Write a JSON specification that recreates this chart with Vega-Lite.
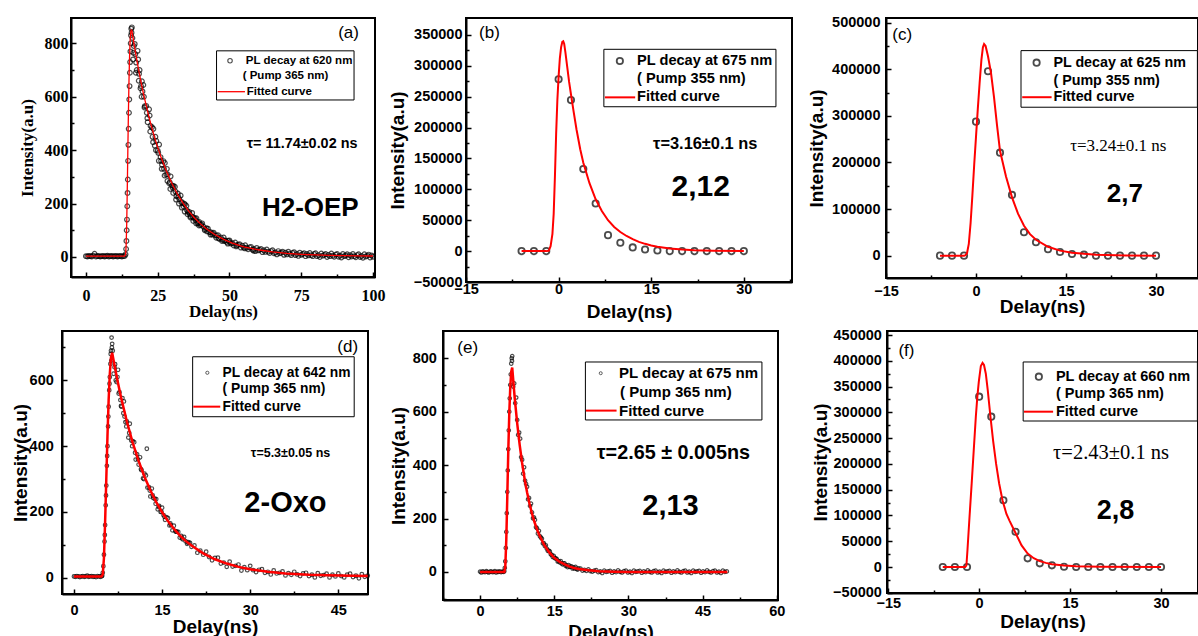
{
"$schema":"https://vega.github.io/schema/vega-lite/v6.json",
"background":"white",
"padding":{"left":0,"top":13,"right":0,"bottom":0},
"config":{
 "view":{"stroke":"black","strokeWidth":2},
 "axis":{"grid":false,"domainColor":"black","domainWidth":2,"tickColor":"black","tickWidth":1.5,"tickSize":-5,"labelColor":"black","titleColor":"black","labelFont":"Liberation Sans","labelFontWeight":"bold","labelFontSize":14.5,"titleFont":"Liberation Sans","titleFontWeight":"bold","titleFontSize":19,"titleBaseline":"middle","labelFlush":false,"labelOverlap":false}
},
"datasets":{
"a_pts":[{"x":0,"y":3},{"x":0.5,"y":2},{"x":1,"y":4},{"x":1.5,"y":3},{"x":2,"y":2},{"x":2.5,"y":5},{"x":3,"y":12},{"x":3.5,"y":2},{"x":4,"y":4},{"x":4.5,"y":3},{"x":5,"y":2},{"x":5.5,"y":3},{"x":6,"y":4},{"x":6.5,"y":2},{"x":7,"y":3},{"x":7.5,"y":5},{"x":8,"y":2},{"x":8.5,"y":3},{"x":9,"y":4},{"x":9.5,"y":2},{"x":10,"y":3},{"x":10.5,"y":4},{"x":11,"y":2},{"x":11.5,"y":3},{"x":12,"y":4},{"x":12.5,"y":2},{"x":13,"y":3},{"x":13.5,"y":4},
{"x":13.8,"y":10},{"x":14,"y":30},{"x":14.1,"y":60},{"x":14.2,"y":100},{"x":14.3,"y":140},{"x":14.4,"y":190},{"x":14.5,"y":240},{"x":14.6,"y":290},{"x":14.7,"y":360},{"x":14.8,"y":420},{"x":14.9,"y":480},{"x":15,"y":540},{"x":15.1,"y":590},{"x":15.2,"y":640},{"x":15.3,"y":690},{"x":15.4,"y":730},{"x":15.5,"y":770},{"x":15.6,"y":800},{"x":15.7,"y":830},{"x":15.8,"y":855},{"x":15.9,"y":840},
{"x":16,"y":860},{"x":16.5,"y":765},{"x":17,"y":798},{"x":17.5,"y":728},{"x":18,"y":772},{"x":18.5,"y":686},{"x":19,"y":632},{"x":19.5,"y":658},{"x":20,"y":644},{"x":20.5,"y":565},{"x":21,"y":566},{"x":21.5,"y":505},{"x":22,"y":553},{"x":22.5,"y":491},{"x":23,"y":486},{"x":23.5,"y":480},{"x":24,"y":417},{"x":24.5,"y":435},{"x":25,"y":398},{"x":25.5,"y":421},{"x":26,"y":374},{"x":26.5,"y":345},{"x":27,"y":359},{"x":27.5,"y":352},{"x":28,"y":309},{"x":28.5,"y":309},{"x":29,"y":276},{"x":29.5,"y":302},{"x":30,"y":268},{"x":30.5,"y":266},{"x":31,"y":263},{"x":31.5,"y":228},{"x":32,"y":238},{"x":32.5,"y":217},{"x":33,"y":230},{"x":33.5,"y":205},{"x":34,"y":189},{"x":34.5,"y":197},{"x":35,"y":192},{"x":35.5,"y":169},{"x":36,"y":169},{"x":36.5,"y":152},{"x":37,"y":165},{"x":37.5,"y":147},{"x":38,"y":145},{"x":38.5,"y":145},{"x":39,"y":125},{"x":39.5,"y":131},{"x":40,"y":119},{"x":40.5,"y":126},{"x":41,"y":113},{"x":41.5,"y":104},{"x":42,"y":108},{"x":42.5,"y":106},{"x":43,"y":93},{"x":43.5,"y":93},{"x":44,"y":84},{"x":44.5,"y":91},{"x":45,"y":81},{"x":45.5,"y":81},{"x":46,"y":82},{"x":46.5,"y":68},{"x":47,"y":73},{"x":47.5,"y":65},{"x":48,"y":73},{"x":48.5,"y":62},{"x":49,"y":56},{"x":49.5,"y":61},{"x":50,"y":62},{"x":50.5,"y":50},{"x":51,"y":52},{"x":51.5,"y":43},{"x":52,"y":54},{"x":52.5,"y":44},{"x":53,"y":46},{"x":53.5,"y":48},{"x":54,"y":35},{"x":54.5,"y":42},{"x":55,"y":35},{"x":55.5,"y":44},{"x":56,"y":35},{"x":56.5,"y":29},{"x":57,"y":36},{"x":57.5,"y":38},{"x":58,"y":27},{"x":58.5,"y":30},{"x":59,"y":22},{"x":59.5,"y":34},{"x":60,"y":25},{"x":60.5,"y":27},{"x":61,"y":30},{"x":61.5,"y":18},{"x":62,"y":25},{"x":62.5,"y":19},{"x":63,"y":28},{"x":63.5,"y":20},{"x":64,"y":15},{"x":64.5,"y":22},{"x":65,"y":25},{"x":65.5,"y":14},{"x":66,"y":17},{"x":66.5,"y":10},{"x":67,"y":22},{"x":67.5,"y":14},{"x":68,"y":16},{"x":68.5,"y":20},{"x":69,"y":8},{"x":69.5,"y":16},{"x":70,"y":10},{"x":70.5,"y":20},{"x":71,"y":12},{"x":71.5,"y":7},{"x":72,"y":15},{"x":72.5,"y":18},{"x":73,"y":7},{"x":73.5,"y":11},{"x":74,"y":4},{"x":74.5,"y":16},{"x":75,"y":8},{"x":75.5,"y":11},{"x":76,"y":14},{"x":76.5,"y":3},{"x":77,"y":11},{"x":77.5,"y":6},{"x":78,"y":15},{"x":78.5,"y":7},{"x":79,"y":3},{"x":79.5,"y":11},{"x":80,"y":14},{"x":80.5,"y":3},{"x":81,"y":7},{"x":81.5,"y":0},{"x":82,"y":13},{"x":82.5,"y":5},{"x":83,"y":8},{"x":83.5,"y":11},{"x":84,"y":0},{"x":84.5,"y":8},{"x":85,"y":3},{"x":85.5,"y":13},{"x":86,"y":5},{"x":86.5,"y":1},{"x":87,"y":9},{"x":87.5,"y":11},{"x":88,"y":1},{"x":88.5,"y":5},{"x":89,"y":-2},{"x":89.5,"y":11},{"x":90,"y":3},{"x":90.5,"y":6},{"x":91,"y":10},{"x":91.5,"y":-1},{"x":92,"y":7},{"x":92.5,"y":2},{"x":93,"y":11},{"x":93.5,"y":3},{"x":94,"y":-1},{"x":94.5,"y":7},{"x":95,"y":10},{"x":95.5,"y":0},{"x":96,"y":4},{"x":96.5,"y":-3},{"x":97,"y":10},{"x":97.5,"y":2},{"x":98,"y":5},{"x":98.5,"y":9},{"x":99,"y":-2},{"x":99.5,"y":6},{"x":100,"y":1},
{"x":16.2,"y":820},{"x":16.7,"y":790},{"x":17.2,"y":760},{"x":17.7,"y":700},{"x":18.2,"y":740},{"x":18.7,"y":700},{"x":19.2,"y":640},{"x":19.7,"y":620},{"x":20.2,"y":600},{"x":21.2,"y":540},{"x":22.2,"y":530},{"x":23.2,"y":450},{"x":24.2,"y":450},{"x":25.2,"y":390},{"x":26.2,"y":360},{"x":27.2,"y":330},{"x":28.2,"y":330},{"x":29.2,"y":280},{"x":30.2,"y":260},{"x":31.2,"y":245},{"x":32.2,"y":225},{"x":33.2,"y":205},{"x":34.2,"y":200},{"x":35.2,"y":175},{"x":36.2,"y":160},{"x":37.2,"y":150},{"x":38.2,"y":138},{"x":39.2,"y":128},{"x":40.2,"y":122},{"x":42.2,"y":96},{"x":44.2,"y":88},{"x":46.2,"y":70},{"x":48.2,"y":60},{"x":50.2,"y":55},
{"x":16.4,"y":740},{"x":17.4,"y":690},{"x":18.4,"y":660},{"x":19.4,"y":600},{"x":20.4,"y":560},{"x":21.4,"y":520},{"x":22.4,"y":470},{"x":23.4,"y":430},{"x":24.4,"y":400},{"x":25.4,"y":360},{"x":26.4,"y":330},{"x":27.4,"y":305},{"x":28.4,"y":285},{"x":29.4,"y":255},{"x":30.4,"y":240},{"x":31.4,"y":215},{"x":32.4,"y":200},{"x":33.4,"y":185},{"x":34.4,"y":170},{"x":35.4,"y":160},{"x":36.4,"y":148},{"x":37.4,"y":135},{"x":38.4,"y":126},{"x":39.4,"y":118},{"x":41.4,"y":100},{"x":43.4,"y":84},{"x":45.4,"y":72},{"x":47.4,"y":60},{"x":49.4,"y":50},{"x":52.4,"y":40},{"x":55.4,"y":32},{"x":58.4,"y":24}],
"a_fit":[{"x":0,"y":3},{"x":13.5,"y":3},{"x":13.8,"y":8},{"x":14,"y":40},{"x":14.2,"y":120},{"x":14.4,"y":250},{"x":14.6,"y":400},{"x":14.8,"y":540},{"x":15,"y":660},{"x":15.2,"y":750},{"x":15.4,"y":810},{"x":15.6,"y":840},{"x":15.8,"y":850},{"x":16,"y":848},{"x":17,"y":782},{"x":18,"y":721},{"x":19,"y":665},{"x":20,"y":613},{"x":22,"y":522},{"x":24,"y":444},{"x":26,"y":378},{"x":28,"y":322},{"x":30,"y":274},{"x":32,"y":233},{"x":34,"y":199},{"x":36,"y":169},{"x":38,"y":144},{"x":40,"y":123},{"x":42,"y":105},{"x":45,"y":83},{"x":48,"y":66},{"x":51,"y":52},{"x":55,"y":38},{"x":60,"y":27},{"x":65,"y":19},{"x":70,"y":13.5},{"x":75,"y":10},{"x":80,"y":7.6},{"x":85,"y":6},{"x":90,"y":5},{"x":95,"y":4.2},{"x":100,"y":3.6}],
"a_txt":[{"x":55.7,"y":735,"t":"PL decay at 620 nm","k":"leg"},{"x":54.6,"y":678,"t":"( Pump 365 nm)","k":"leg"},{"x":56,"y":619,"t":"Fitted curve","k":"leg"},{"x":56,"y":423,"t":"τ= 11.74±0.02 ns","k":"tau"},{"x":61.3,"y":183,"t":"H2-OEP","k":"big"},{"x":91.5,"y":839,"t":"(a)","k":"lab"}],
"b_pts":[{"x":-6,"y":0},{"x":-4,"y":0},{"x":-2,"y":0},{"x":0,"y":278200},{"x":2,"y":244600},{"x":4,"y":132800},{"x":6,"y":77200},{"x":8,"y":25900},{"x":10,"y":13500},{"x":12,"y":6000},{"x":14,"y":2700},{"x":16,"y":1000},{"x":18,"y":0},{"x":20,"y":0},{"x":22,"y":0},{"x":24,"y":0},{"x":26,"y":0},{"x":28,"y":0},{"x":30,"y":0}],
"b_fit":[{"x":-6,"y":0},{"x":-2,"y":0},{"x":-1.6,"y":500},{"x":-1.3,"y":8000},{"x":-1,"y":28000},{"x":-0.8,"y":60000},{"x":-0.6,"y":120000},{"x":-0.4,"y":190000},{"x":-0.2,"y":245000},{"x":0,"y":283000},{"x":0.2,"y":312000},{"x":0.4,"y":330000},{"x":0.6,"y":339000},{"x":0.75,"y":340000},{"x":0.9,"y":336000},{"x":1.1,"y":322000},{"x":1.4,"y":298000},{"x":1.7,"y":274000},{"x":2,"y":254000},{"x":2.4,"y":228000},{"x":2.9,"y":197000},{"x":3.5,"y":165000},{"x":4,"y":143000},{"x":5,"y":110000},{"x":6,"y":84000},{"x":7,"y":65000},{"x":8,"y":50000},{"x":9,"y":39000},{"x":10,"y":31000},{"x":11,"y":24500},{"x":12,"y":19500},{"x":13,"y":15000},{"x":14,"y":11800},{"x":15,"y":9200},{"x":16,"y":7200},{"x":18,"y":4400},{"x":20,"y":2700},{"x":22,"y":1600},{"x":25,"y":700},{"x":30,"y":100}],
"b_txt":[{"x":12.7,"y":307800,"t":"PL decay at 675 nm","k":"leg"},{"x":12.7,"y":278100,"t":"( Pump 355 nm)","k":"leg"},{"x":12.7,"y":249000,"t":"Fitted curve","k":"leg"},{"x":15.3,"y":173300,"t":"τ=3.16±0.1 ns","k":"tau"},{"x":18.3,"y":104200,"t":"2,12","k":"big"},{"x":-11.2,"y":353000,"t":"(b)","k":"lab"}],
"c_pts":[{"x":-6,"y":0},{"x":-4,"y":0},{"x":-2,"y":0},{"x":0,"y":287600},{"x":2,"y":395700},{"x":4,"y":221000},{"x":6,"y":130300},{"x":8,"y":50200},{"x":10,"y":28700},{"x":12,"y":13700},{"x":14,"y":7900},{"x":16,"y":3600},{"x":18,"y":2100},{"x":20,"y":0},{"x":22,"y":0},{"x":24,"y":0},{"x":26,"y":0},{"x":28,"y":0},{"x":30,"y":0}],
"c_fit":[{"x":-6,"y":0},{"x":-2,"y":0},{"x":-1.8,"y":500},{"x":-1.5,"y":5000},{"x":-1.2,"y":25000},{"x":-0.9,"y":70000},{"x":-0.6,"y":130000},{"x":-0.3,"y":195000},{"x":0,"y":255000},{"x":0.3,"y":315000},{"x":0.6,"y":370000},{"x":0.9,"y":420000},{"x":1.15,"y":447000},{"x":1.35,"y":454000},{"x":1.6,"y":450000},{"x":2,"y":428000},{"x":2.5,"y":392000},{"x":3,"y":340000},{"x":3.5,"y":280000},{"x":4,"y":225000},{"x":5,"y":170000},{"x":6,"y":125000},{"x":7,"y":90000},{"x":8,"y":64000},{"x":9,"y":46000},{"x":10,"y":34000},{"x":12,"y":19000},{"x":14,"y":10700},{"x":16,"y":6400},{"x":18,"y":3800},{"x":20,"y":2000},{"x":25,"y":500},{"x":30,"y":0}],
"c_txt":[{"x":12.9,"y":414200,"t":"PL decay at 625 nm","k":"leg"},{"x":12.9,"y":374900,"t":"( Pump 355 nm)","k":"leg"},{"x":12.9,"y":340000,"t":"Fitted curve","k":"leg"},{"x":15.7,"y":236000,"t":"τ=3.24±0.1 ns","k":"tau"},{"x":21.8,"y":132400,"t":"2,7","k":"big"},{"x":-12.3,"y":473600,"t":"(c)","k":"lab"}],
"d_pts":[{"x":0,"y":4},{"x":0.25,"y":3},{"x":0.5,"y":5},{"x":0.75,"y":4},{"x":1,"y":2},{"x":1.25,"y":4},{"x":1.5,"y":5},{"x":1.75,"y":3},{"x":2,"y":4},{"x":2.25,"y":6},{"x":2.5,"y":3},{"x":2.75,"y":4},{"x":3,"y":5},{"x":3.25,"y":3},{"x":3.5,"y":4},{"x":3.75,"y":2},{"x":4,"y":5},{"x":4.25,"y":4},{"x":4.5,"y":3},{"x":4.75,"y":5},
{"x":4.8,"y":6},{"x":4.9,"y":15},{"x":5,"y":35},{"x":5.1,"y":70},{"x":5.2,"y":110},{"x":5.25,"y":130},{"x":5.3,"y":160},{"x":5.4,"y":220},{"x":5.45,"y":250},{"x":5.5,"y":280},{"x":5.6,"y":340},{"x":5.65,"y":370},{"x":5.7,"y":400},{"x":5.8,"y":460},{"x":5.85,"y":490},{"x":5.9,"y":520},{"x":6,"y":570},{"x":6.05,"y":590},{"x":6.1,"y":610},{"x":6.2,"y":650},{"x":6.25,"y":680},{"x":6.3,"y":690},{"x":6.35,"y":660},{"x":6.4,"y":730},{"x":6.45,"y":700},
{"x":6.5,"y":711},{"x":6.75,"y":620},{"x":7,"y":649},{"x":7.25,"y":595},{"x":7.5,"y":632},{"x":7.75,"y":564},{"x":8,"y":522},{"x":8.25,"y":546},{"x":8.5,"y":536},{"x":8.75,"y":473},{"x":9,"y":475},{"x":9.25,"y":426},{"x":9.5,"y":468},{"x":9.75,"y":417},{"x":10,"y":415},{"x":10.25,"y":412},{"x":10.5,"y":359},{"x":10.75,"y":375},{"x":11,"y":344},{"x":11.25,"y":366},{"x":11.5,"y":327},{"x":11.75,"y":302},{"x":12,"y":316},{"x":12.25,"y":311},{"x":12.5,"y":274},{"x":12.75,"y":275},{"x":13,"y":247},{"x":13.25,"y":271},{"x":13.5,"y":242},{"x":13.75,"y":240},{"x":14,"y":239},{"x":14.25,"y":208},{"x":14.5,"y":218},{"x":14.75,"y":200},{"x":15,"y":213},{"x":15.25,"y":190},{"x":15.5,"y":176},{"x":15.75,"y":184},{"x":16,"y":181},{"x":16.25,"y":159},{"x":16.5,"y":160},{"x":16.75,"y":144},{"x":17,"y":158},{"x":17.25,"y":141},{"x":17.5,"y":140},{"x":17.75,"y":139},{"x":18,"y":122},{"x":18.25,"y":127},{"x":18.5,"y":117},{"x":18.75,"y":124},{"x":19,"y":111},{"x":19.25,"y":103},{"x":19.5,"y":108},{"x":19.75,"y":106},{"x":20,"y":94},
{"x":6.6,"y":690},{"x":6.9,"y":640},{"x":7.1,"y":600},{"x":7.4,"y":610},{"x":7.6,"y":560},{"x":7.9,"y":540},{"x":8.1,"y":520},{"x":8.4,"y":500},{"x":8.6,"y":490},{"x":8.9,"y":460},{"x":9.4,"y":440},{"x":9.9,"y":400},{"x":10.4,"y":380},{"x":10.9,"y":360},{"x":11.4,"y":330},{"x":11.9,"y":300},{"x":12.4,"y":392},{"x":12.9,"y":265},{"x":13.4,"y":250},{"x":13.9,"y":225},{"x":14.4,"y":215},{"x":14.9,"y":200},{"x":15.4,"y":185},{"x":16.4,"y":165},{"x":17.4,"y":140},{"x":18.4,"y":120},{"x":19.4,"y":106},
{"x":20.5,"y":98},{"x":21,"y":76},{"x":21.5,"y":82},{"x":22,"y":70},{"x":22.5,"y":79},{"x":23,"y":63},{"x":23.5,"y":53},{"x":24,"y":60},{"x":24.5,"y":61},{"x":25,"y":43},{"x":25.5,"y":46},{"x":26,"y":33},{"x":26.5,"y":49},{"x":27,"y":34},{"x":27.5,"y":36},{"x":28,"y":40},{"x":28.5,"y":22},{"x":29,"y":32},{"x":29.5,"y":23},{"x":30,"y":36},{"x":30.5,"y":23},{"x":31,"y":17},{"x":31.5,"y":24},{"x":32,"y":26},{"x":32.5,"y":15},{"x":33,"y":18},{"x":33.5,"y":10},{"x":34,"y":22},{"x":34.5,"y":13},{"x":35,"y":15},{"x":35.5,"y":19},{"x":36,"y":7},{"x":36.5,"y":14},{"x":37,"y":9},{"x":37.5,"y":18},{"x":38,"y":10},{"x":38.5,"y":5},{"x":39,"y":13},{"x":39.5,"y":15},{"x":40,"y":5},{"x":40.5,"y":9},{"x":41,"y":1},{"x":41.5,"y":14},{"x":42,"y":6},{"x":42.5,"y":8},{"x":43,"y":12},{"x":43.5,"y":1},{"x":44,"y":9},{"x":44.5,"y":4},{"x":45,"y":13},{"x":45.5,"y":5},{"x":46,"y":1},{"x":46.5,"y":9},{"x":47,"y":12},{"x":47.5,"y":2},{"x":48,"y":6},{"x":48.5,"y":-2},{"x":49,"y":11},{"x":49.5,"y":3},{"x":50,"y":6}],
"d_fit":[{"x":0,"y":4},{"x":4.7,"y":4},{"x":4.9,"y":10},{"x":5.1,"y":60},{"x":5.3,"y":170},{"x":5.5,"y":300},{"x":5.7,"y":430},{"x":5.9,"y":540},{"x":6.1,"y":620},{"x":6.3,"y":670},{"x":6.5,"y":684},{"x":7,"y":636},{"x":7.5,"y":591},{"x":8,"y":549},{"x":9,"y":475},{"x":10,"y":410},{"x":11,"y":355},{"x":12,"y":307},{"x":13,"y":266},{"x":14,"y":230},{"x":15,"y":199},{"x":16,"y":172},{"x":17,"y":149},{"x":18,"y":129},{"x":19,"y":112},{"x":20,"y":98},{"x":22,"y":74},{"x":24,"y":56},{"x":26,"y":43},{"x":28,"y":33},{"x":30,"y":25.5},{"x":33,"y":18},{"x":36,"y":13},{"x":40,"y":9},{"x":45,"y":6.4},{"x":50,"y":5}],
"d_txt":[{"x":25.3,"y":623,"t":"PL decay at 642 nm","k":"leg"},{"x":25.3,"y":572.6,"t":"( Pump 365 nm)","k":"leg"},{"x":25.3,"y":520,"t":"Fitted curve","k":"leg"},{"x":30.1,"y":380,"t":"τ=5.3±0.05 ns","k":"tau"},{"x":29,"y":228,"t":"2-Oxo","k":"big"},{"x":46.6,"y":702,"t":"(d)","k":"lab"}],
"e_pts":[{"x":0,"y":1},{"x":0.25,"y":-2},{"x":0.5,"y":2},{"x":0.75,"y":0},{"x":1,"y":-1},{"x":1.25,"y":3},{"x":1.5,"y":0},{"x":1.75,"y":-2},{"x":2,"y":1},{"x":2.25,"y":2},{"x":2.5,"y":-1},{"x":2.75,"y":0},{"x":3,"y":3},{"x":3.25,"y":-2},{"x":3.5,"y":1},{"x":3.75,"y":0},{"x":4,"y":2},{"x":4.25,"y":-1},{"x":4.5,"y":1},{"x":4.75,"y":0},
{"x":4.9,"y":3},{"x":5,"y":15},{"x":5.1,"y":40},{"x":5.2,"y":90},{"x":5.3,"y":150},{"x":5.4,"y":220},{"x":5.5,"y":300},{"x":5.6,"y":380},{"x":5.7,"y":460},{"x":5.8,"y":530},{"x":5.9,"y":600},{"x":6,"y":650},{"x":6.1,"y":700},{"x":6.2,"y":740},{"x":6.3,"y":780},{"x":6.4,"y":800},{"x":6.45,"y":790},
{"x":6.5,"y":808},{"x":6.7,"y":694},{"x":6.9,"y":706},{"x":7.1,"y":632},{"x":7.3,"y":653},{"x":7.5,"y":569},{"x":7.7,"y":513},{"x":7.9,"y":522},{"x":8.1,"y":499},{"x":8.3,"y":430},{"x":8.5,"y":420},{"x":8.7,"y":368},{"x":8.9,"y":392},{"x":9.1,"y":342},{"x":9.3,"y":330},{"x":9.5,"y":319},{"x":9.7,"y":272},{"x":9.9,"y":277},{"x":10.1,"y":247},{"x":10.3,"y":256},{"x":10.5,"y":223},{"x":10.7,"y":201},{"x":10.9,"y":204},{"x":11.1,"y":195},{"x":11.3,"y":168},{"x":11.5,"y":164},{"x":11.7,"y":144},{"x":11.9,"y":154},{"x":12.1,"y":134},{"x":12.3,"y":129},{"x":12.5,"y":125},{"x":12.7,"y":107},{"x":12.9,"y":108},{"x":13.1,"y":97},{"x":13.3,"y":100},{"x":13.5,"y":87},{"x":13.7,"y":79},{"x":13.9,"y":80},{"x":14.1,"y":77},{"x":14.3,"y":66},{"x":14.5,"y":64},{"x":14.7,"y":56},{"x":14.9,"y":60},{"x":15.1,"y":52},{"x":15.3,"y":51},{"x":15.5,"y":49},{"x":15.7,"y":39},{"x":15.9,"y":41},{"x":16.1,"y":36},{"x":16.3,"y":41},{"x":16.5,"y":32},{"x":16.7,"y":28},{"x":16.9,"y":32},{"x":17.1,"y":32},{"x":17.3,"y":23},{"x":17.5,"y":25},{"x":17.7,"y":18},{"x":17.9,"y":26},{"x":18.1,"y":19},{"x":18.3,"y":20},{"x":18.5,"y":21},{"x":18.7,"y":13},{"x":18.9,"y":17},{"x":19.1,"y":13},{"x":19.3,"y":19},{"x":19.5,"y":12},{"x":19.7,"y":9},{"x":19.9,"y":14},
{"x":20.3,"y":13},{"x":20.7,"y":5},{"x":21.1,"y":8},{"x":21.5,"y":4},{"x":21.9,"y":10},{"x":22.3,"y":3},{"x":22.7,"y":1},{"x":23.1,"y":5},{"x":23.5,"y":7},{"x":23.9,"y":-1},{"x":24.3,"y":2},{"x":24.7,"y":-4},{"x":25.1,"y":5},{"x":25.5,"y":0},{"x":25.9,"y":2},{"x":26.3,"y":4},{"x":26.7,"y":-3},{"x":27.1,"y":2},{"x":27.5,"y":-1},{"x":27.9,"y":6},{"x":28.3,"y":0},{"x":28.7,"y":-2},{"x":29.1,"y":3},{"x":29.5,"y":5},{"x":29.9,"y":-2},{"x":30.3,"y":1},{"x":30.7,"y":-4},{"x":31.1,"y":5},{"x":31.5,"y":0},{"x":31.9,"y":2},{"x":32.3,"y":4},{"x":32.7,"y":-3},{"x":33.1,"y":2},{"x":33.5,"y":-1},{"x":33.9,"y":6},{"x":34.3,"y":0},{"x":34.7,"y":-2},{"x":35.1,"y":3},{"x":35.5,"y":5},{"x":35.9,"y":-2},{"x":36.3,"y":1},{"x":36.7,"y":-4},{"x":37.1,"y":5},{"x":37.5,"y":0},{"x":37.9,"y":2},{"x":38.3,"y":4},{"x":38.7,"y":-3},{"x":39.1,"y":2},{"x":39.5,"y":-1},{"x":39.9,"y":6},{"x":40.3,"y":0},{"x":40.7,"y":-2},{"x":41.1,"y":3},{"x":41.5,"y":5},{"x":41.9,"y":-2},{"x":42.3,"y":1},{"x":42.7,"y":-4},{"x":43.1,"y":5},{"x":43.5,"y":0},{"x":43.9,"y":2},{"x":44.3,"y":4},{"x":44.7,"y":-3},{"x":45.1,"y":2},{"x":45.5,"y":-1},{"x":45.9,"y":6},{"x":46.3,"y":0},{"x":46.7,"y":-2},{"x":47.1,"y":3},{"x":47.5,"y":5},{"x":47.9,"y":-2},{"x":48.3,"y":1},{"x":48.7,"y":-4},{"x":49.1,"y":5},{"x":49.5,"y":0},{"x":49.9,"y":2}],
"e_fit":[{"x":0,"y":0},{"x":4.9,"y":0},{"x":5.1,"y":20},{"x":5.3,"y":120},{"x":5.5,"y":280},{"x":5.7,"y":450},{"x":5.9,"y":590},{"x":6.1,"y":690},{"x":6.3,"y":750},{"x":6.5,"y":765},{"x":7,"y":652},{"x":7.5,"y":557},{"x":8,"y":477},{"x":8.5,"y":408},{"x":9,"y":349},{"x":9.5,"y":298},{"x":10,"y":255},{"x":10.5,"y":218},{"x":11,"y":187},{"x":11.5,"y":160},{"x":12,"y":137},{"x":13,"y":100},{"x":14,"y":73},{"x":15,"y":53},{"x":16,"y":39},{"x":17,"y":29},{"x":18,"y":21},{"x":19,"y":15},{"x":20,"y":11},{"x":22,"y":6},{"x":24,"y":3},{"x":27,"y":1},{"x":30,"y":0},{"x":50,"y":0}],
"e_txt":[{"x":28.1,"y":744,"t":"PL decay at 675 nm","k":"leg"},{"x":28.3,"y":674,"t":"( Pump 365 nm)","k":"leg"},{"x":28.1,"y":604,"t":"Fitted curve","k":"leg"},{"x":23.6,"y":446.6,"t":"τ=2.65 ± 0.005ns","k":"tau"},{"x":32.8,"y":246,"t":"2,13","k":"big"},{"x":-2.5,"y":840,"t":"(e)","k":"lab"}],
"f_pts":[{"x":-6,"y":0},{"x":-4,"y":0},{"x":-2,"y":0},{"x":0,"y":330400},{"x":2,"y":291600},{"x":4,"y":129400},{"x":6,"y":68500},{"x":8,"y":16800},{"x":10,"y":7100},{"x":12,"y":3300},{"x":14,"y":600},{"x":16,"y":0},{"x":18,"y":0},{"x":20,"y":0},{"x":22,"y":0},{"x":24,"y":0},{"x":26,"y":0},{"x":28,"y":0},{"x":30,"y":0}],
"f_fit":[{"x":-6,"y":0},{"x":-2.3,"y":0},{"x":-2.1,"y":3000},{"x":-1.92,"y":34000},{"x":-1.6,"y":95000},{"x":-1.2,"y":168000},{"x":-0.9,"y":225000},{"x":-0.54,"y":293000},{"x":-0.3,"y":330000},{"x":-0.05,"y":360000},{"x":0.28,"y":390000},{"x":0.56,"y":396000},{"x":0.8,"y":392000},{"x":1.1,"y":375000},{"x":1.4,"y":345000},{"x":1.87,"y":291000},{"x":2.3,"y":245000},{"x":2.8,"y":200000},{"x":3.3,"y":162000},{"x":3.86,"y":129000},{"x":4.5,"y":103000},{"x":5,"y":90000},{"x":6,"y":66000},{"x":7,"y":42000},{"x":8,"y":26000},{"x":9,"y":17000},{"x":10,"y":11500},{"x":11,"y":8000},{"x":12,"y":5500},{"x":14,"y":2800},{"x":16,"y":1400},{"x":20,"y":400},{"x":30,"y":0}],
"f_txt":[{"x":12.66,"y":369200,"t":"PL decay at 660 nm","k":"leg"},{"x":12.66,"y":335600,"t":"( Pump 365 nm)","k":"leg"},{"x":12.66,"y":301300,"t":"Fitted curve","k":"leg"},{"x":12.2,"y":221700,"t":"τ=2.43±0.1 ns","k":"tau"},{"x":19.4,"y":108600,"t":"2,8","k":"big"},{"x":-12,"y":419000,"t":"(f)","k":"lab"}]
},
"spacing":4,
"bounds":"full",
"vconcat":[
{"spacing":0,"bounds":"flush","resolve":{"scale":{"x":"independent","y":"independent"},"axis":{"x":"independent","y":"independent"}},
 "hconcat":[
{"width":71,"height":1,"data":{"values":[{}]},"mark":{"type":"point","opacity":0,"size":0},"view":{"stroke":null}},
{"width":304,"height":259,
 "encoding":{
  "x":{"field":"x","type":"quantitative","scale":{"domain":[-5.2,100.7],"nice":false,"zero":false},"axis":{"title":"Delay(ns)","values":[0,12.5,25,37.5,50,62.5,75,87.5,100],"labelExpr":"datum.value % 25 != 0 ? '' : datum.label","tickSize":{"condition":{"test":"datum.value % 25 != 0","value":-3},"value":-5},"format":"d","labelFont":"Liberation Serif","labelFontSize":16,"titleFont":"Liberation Serif","titleFontSize":17,"labelPadding":15,"titleY":34}},
  "y":{"field":"y","type":"quantitative","scale":{"domain":[-75,895],"nice":false,"zero":false},"axis":{"title":"Intensity(a.u)","values":[0,100,200,300,400,500,600,700,800],"labelExpr":"datum.value % 200 != 0 ? '' : datum.label","tickSize":{"condition":{"test":"datum.value % 200 != 0","value":-3},"value":-5},"format":"d","labelFont":"Liberation Serif","labelFontSize":16,"titleFont":"Liberation Serif","titleFontSize":17,"labelPadding":8,"titleX":-43.5}}},
 "layer":[
  {"data":{"name":"a_pts"},"mark":{"type":"point","shape":"circle","filled":false,"color":"black","size":22,"strokeWidth":1.2}},
  {"data":{"name":"a_fit"},"mark":{"type":"line","color":"red","strokeWidth":1.3}},
  {"data":{"values":[{"x":45.5,"x2":93.4,"y":772,"y2":588}]},"mark":{"type":"rect","fill":"white","stroke":"black","strokeWidth":1},"encoding":{"x2":{"field":"x2"},"y2":{"field":"y2"}}},
  {"data":{"values":[{"x":45.9,"x2":55.4,"y":619}]},"mark":{"type":"rule","color":"red","strokeWidth":1.3},"encoding":{"x2":{"field":"x2"}}},
  {"data":{"values":[{"x":50.2,"y":735}]},"mark":{"type":"point","shape":"circle","filled":false,"color":"black","size":20,"strokeWidth":1.1}},
  {"data":{"name":"a_txt"},"transform":[{"filter":"datum.k=='leg'"}],"mark":{"type":"text","align":"left","baseline":"middle","font":"Liberation Sans","fontWeight":"bold","fontSize":11.5},"encoding":{"text":{"field":"t"}}},
  {"data":{"name":"a_txt"},"transform":[{"filter":"datum.k=='tau'"}],"mark":{"type":"text","align":"left","baseline":"middle","font":"Liberation Sans","fontWeight":"bold","fontSize":14.4},"encoding":{"text":{"field":"t"}}},
  {"data":{"name":"a_txt"},"transform":[{"filter":"datum.k=='big'"}],"mark":{"type":"text","align":"left","baseline":"middle","font":"Liberation Sans","fontWeight":"bold","fontSize":26},"encoding":{"text":{"field":"t"}}},
  {"data":{"name":"a_txt"},"transform":[{"filter":"datum.k=='lab'"}],"mark":{"type":"text","align":"center","baseline":"middle","font":"Liberation Sans","fontSize":17},"encoding":{"text":{"field":"t"}}}
 ]},
{"width":91,"height":1,"data":{"values":[{}]},"mark":{"type":"point","opacity":0,"size":0},"view":{"stroke":null}},
{"width":326,"height":264,
 "encoding":{
  "x":{"field":"x","type":"quantitative","scale":{"domain":[-15,37.8],"nice":false,"zero":false},"axis":{"title":"Delay(ns)","values":[-15,-7.5,0,7.5,15,22.5,30,37.5],"labelExpr":"datum.value % 15 != 0 ? '' : datum.label","tickSize":{"condition":{"test":"datum.value % 15 != 0","value":-3},"value":-5},"format":"d","labelPadding":5.5,"titleY":29}},
  "y":{"field":"y","type":"quantitative","scale":{"domain":[-50000,377500],"nice":false,"zero":false},"axis":{"title":"Intensity(a.u)","values":[-50000,-25000,0,25000,50000,75000,100000,125000,150000,175000,200000,225000,250000,275000,300000,325000,350000],"labelExpr":"datum.value % 50000 != 0 ? '' : datum.label","tickSize":{"condition":{"test":"datum.value % 50000 != 0","value":-3},"value":-5},"format":"d","labelPadding":9,"titleX":-69}}},
 "layer":[
  {"data":{"name":"b_pts"},"mark":{"type":"point","shape":"circle","filled":false,"color":"black","size":40,"strokeWidth":1.8}},
  {"data":{"name":"b_fit"},"mark":{"type":"line","color":"red","strokeWidth":2}},
  {"data":{"values":[{"x":7.33,"x2":35.2,"y":326800,"y2":233800}]},"mark":{"type":"rect","fill":"white","stroke":"black","strokeWidth":1},"encoding":{"x2":{"field":"x2"},"y2":{"field":"y2"}}},
  {"data":{"values":[{"x":7.5,"x2":12.4,"y":249000}]},"mark":{"type":"rule","color":"red","strokeWidth":2},"encoding":{"x2":{"field":"x2"}}},
  {"data":{"values":[{"x":9.92,"y":307800}]},"mark":{"type":"point","shape":"circle","filled":false,"color":"black","size":40,"strokeWidth":1.8}},
  {"data":{"name":"b_txt"},"transform":[{"filter":"datum.k=='leg'"}],"mark":{"type":"text","align":"left","baseline":"middle","font":"Liberation Sans","fontWeight":"bold","fontSize":14.6},"encoding":{"text":{"field":"t"}}},
  {"data":{"name":"b_txt"},"transform":[{"filter":"datum.k=='tau'"}],"mark":{"type":"text","align":"left","baseline":"middle","font":"Liberation Sans","fontWeight":"bold","fontSize":16.4},"encoding":{"text":{"field":"t"}}},
  {"data":{"name":"b_txt"},"transform":[{"filter":"datum.k=='big'"}],"mark":{"type":"text","align":"left","baseline":"middle","font":"Liberation Sans","fontWeight":"bold","fontSize":30},"encoding":{"text":{"field":"t"}}},
  {"data":{"name":"b_txt"},"transform":[{"filter":"datum.k=='lab'"}],"mark":{"type":"text","align":"center","baseline":"middle","font":"Liberation Sans","fontSize":17},"encoding":{"text":{"field":"t"}}}
 ]},
{"width":94,"height":1,"data":{"values":[{}]},"mark":{"type":"point","opacity":0,"size":0},"view":{"stroke":null}},
{"width":312,"height":260,
 "encoding":{
  "x":{"field":"x","type":"quantitative","scale":{"domain":[-15,37],"nice":false,"zero":false},"axis":{"title":"Delay(ns)","values":[-15,-7.5,0,7.5,15,22.5,30],"labelExpr":"datum.value % 15 != 0 ? '' : datum.label","tickSize":{"condition":{"test":"datum.value % 15 != 0","value":-3},"value":-5},"format":"d","labelPadding":11.5,"titleY":28.7}},
  "y":{"field":"y","type":"quantitative","scale":{"domain":[-48000,510000],"nice":false,"zero":false},"axis":{"title":"Intensity(a.u)","values":[0,50000,100000,150000,200000,250000,300000,350000,400000,450000,500000],"labelExpr":"datum.value % 100000 != 0 ? '' : datum.label","tickSize":{"condition":{"test":"datum.value % 100000 != 0","value":-3},"value":-5},"format":"d","labelPadding":11,"titleX":-69.3}}},
 "layer":[
  {"data":{"name":"c_pts"},"mark":{"type":"point","shape":"circle","filled":false,"color":"black","size":40,"strokeWidth":1.8}},
  {"data":{"name":"c_fit"},"mark":{"type":"line","color":"red","strokeWidth":2}},
  {"data":{"values":[{"x":7.5,"x2":36.9,"y":440000,"y2":318500}]},"mark":{"type":"rect","fill":"white","stroke":"black","strokeWidth":1},"encoding":{"x2":{"field":"x2"},"y2":{"field":"y2"}}},
  {"data":{"values":[{"x":7.7,"x2":12.6,"y":340000}]},"mark":{"type":"rule","color":"red","strokeWidth":2},"encoding":{"x2":{"field":"x2"}}},
  {"data":{"values":[{"x":10.1,"y":414200}]},"mark":{"type":"point","shape":"circle","filled":false,"color":"black","size":40,"strokeWidth":1.8}},
  {"data":{"name":"c_txt"},"transform":[{"filter":"datum.k=='leg'"}],"mark":{"type":"text","align":"left","baseline":"middle","font":"Liberation Sans","fontWeight":"bold","fontSize":14.3},"encoding":{"text":{"field":"t"}}},
  {"data":{"name":"c_txt"},"transform":[{"filter":"datum.k=='tau'"}],"mark":{"type":"text","align":"left","baseline":"middle","font":"Liberation Serif","fontSize":17},"encoding":{"text":{"field":"t"}}},
  {"data":{"name":"c_txt"},"transform":[{"filter":"datum.k=='big'"}],"mark":{"type":"text","align":"left","baseline":"middle","font":"Liberation Sans","fontWeight":"bold","fontSize":26},"encoding":{"text":{"field":"t"}}},
  {"data":{"name":"c_txt"},"transform":[{"filter":"datum.k=='lab'"}],"mark":{"type":"text","align":"center","baseline":"middle","font":"Liberation Sans","fontSize":17},"encoding":{"text":{"field":"t"}}}
 ]}
 ]},
{"spacing":0,"bounds":"flush","resolve":{"scale":{"x":"independent","y":"independent"},"axis":{"x":"independent","y":"independent"}},
 "hconcat":[
{"width":62,"height":1,"data":{"values":[{}]},"mark":{"type":"point","opacity":0,"size":0},"view":{"stroke":null}},
{"width":306,"height":263,
 "encoding":{
  "x":{"field":"x","type":"quantitative","scale":{"domain":[-2.04,50.05],"nice":false,"zero":false},"axis":{"title":"Delay(ns)","values":[0,7.5,15,22.5,30,37.5,45],"labelExpr":"datum.value % 15 != 0 ? '' : datum.label","tickSize":{"condition":{"test":"datum.value % 15 != 0","value":-3},"value":-5},"format":"d","labelPadding":14.5,"titleY":32}},
  "y":{"field":"y","type":"quantitative","scale":{"domain":[-49.5,750],"nice":false,"zero":false},"axis":{"title":"Intensity(a.u)","values":[0,100,200,300,400,500,600,700],"labelExpr":"datum.value % 200 != 0 ? '' : datum.label","tickSize":{"condition":{"test":"datum.value % 200 != 0","value":-3},"value":-5},"format":"d","labelPadding":13.7,"titleX":-42}}},
 "layer":[
  {"data":{"name":"d_pts"},"mark":{"type":"point","shape":"circle","filled":false,"color":"black","size":13,"strokeWidth":1.2}},
  {"data":{"name":"d_fit"},"mark":{"type":"line","color":"red","strokeWidth":2.5}},
  {"data":{"values":[{"x":20.2,"x2":47.7,"y":671.7,"y2":489.4}]},"mark":{"type":"rect","fill":"white","stroke":"black","strokeWidth":1},"encoding":{"x2":{"field":"x2"},"y2":{"field":"y2"}}},
  {"data":{"values":[{"x":20.3,"x2":24.9,"y":520}]},"mark":{"type":"rule","color":"red","strokeWidth":2},"encoding":{"x2":{"field":"x2"}}},
  {"data":{"values":[{"x":22.7,"y":623}]},"mark":{"type":"point","shape":"circle","filled":false,"color":"black","size":10,"strokeWidth":0.9}},
  {"data":{"name":"d_txt"},"transform":[{"filter":"datum.k=='leg'"}],"mark":{"type":"text","align":"left","baseline":"middle","font":"Liberation Sans","fontWeight":"bold","fontSize":13.8},"encoding":{"text":{"field":"t"}}},
  {"data":{"name":"d_txt"},"transform":[{"filter":"datum.k=='tau'"}],"mark":{"type":"text","align":"left","baseline":"middle","font":"Liberation Sans","fontWeight":"bold","fontSize":12.5},"encoding":{"text":{"field":"t"}}},
  {"data":{"name":"d_txt"},"transform":[{"filter":"datum.k=='big'"}],"mark":{"type":"text","align":"left","baseline":"middle","font":"Liberation Sans","fontWeight":"bold","fontSize":29},"encoding":{"text":{"field":"t"}}},
  {"data":{"name":"d_txt"},"transform":[{"filter":"datum.k=='lab'"}],"mark":{"type":"text","align":"center","baseline":"middle","font":"Liberation Sans","fontSize":17},"encoding":{"text":{"field":"t"}}}
 ]},
{"width":75,"height":1,"data":{"values":[{}]},"mark":{"type":"point","opacity":0,"size":0},"view":{"stroke":null}},
{"width":335,"height":269,
 "encoding":{
  "x":{"field":"x","type":"quantitative","scale":{"domain":[-7.5,60.25],"nice":false,"zero":false},"axis":{"title":"Delay(ns)","values":[-7.5,0,7.5,15,22.5,30,37.5,45,52.5,60],"labelExpr":"datum.value % 15 != 0 ? '' : datum.label","tickSize":{"condition":{"test":"datum.value % 15 != 0","value":-3},"value":-5},"format":"d","labelPadding":9.5,"titleY":31}},
  "y":{"field":"y","type":"quantitative","scale":{"domain":[-105,902],"nice":false,"zero":false},"axis":{"title":"Intensity(a.u)","values":[-100,0,100,200,300,400,500,600,700,800],"labelExpr":"datum.value % 200 != 0 ? '' : datum.label","tickSize":{"condition":{"test":"datum.value % 200 != 0","value":-3},"value":-5},"format":"d","labelPadding":11.6,"titleX":-45}}},
 "layer":[
  {"data":{"name":"e_pts"},"mark":{"type":"point","shape":"circle","filled":false,"color":"black","size":12,"strokeWidth":1.2}},
  {"data":{"name":"e_fit"},"mark":{"type":"line","color":"red","strokeWidth":2.5}},
  {"data":{"values":[{"x":21.3,"x2":57,"y":786,"y2":569}]},"mark":{"type":"rect","fill":"white","stroke":"black","strokeWidth":1},"encoding":{"x2":{"field":"x2"},"y2":{"field":"y2"}}},
  {"data":{"values":[{"x":21.4,"x2":27.6,"y":604}]},"mark":{"type":"rule","color":"red","strokeWidth":2},"encoding":{"x2":{"field":"x2"}}},
  {"data":{"values":[{"x":24.4,"y":744}]},"mark":{"type":"point","shape":"circle","filled":false,"color":"black","size":9,"strokeWidth":0.9}},
  {"data":{"name":"e_txt"},"transform":[{"filter":"datum.k=='leg'"}],"mark":{"type":"text","align":"left","baseline":"middle","font":"Liberation Sans","fontWeight":"bold","fontSize":15},"encoding":{"text":{"field":"t"}}},
  {"data":{"name":"e_txt"},"transform":[{"filter":"datum.k=='tau'"}],"mark":{"type":"text","align":"left","baseline":"middle","font":"Liberation Sans","fontWeight":"bold","fontSize":19.8},"encoding":{"text":{"field":"t"}}},
  {"data":{"name":"e_txt"},"transform":[{"filter":"datum.k=='big'"}],"mark":{"type":"text","align":"left","baseline":"middle","font":"Liberation Sans","fontWeight":"bold","fontSize":29},"encoding":{"text":{"field":"t"}}},
  {"data":{"name":"e_txt"},"transform":[{"filter":"datum.k=='lab'"}],"mark":{"type":"text","align":"center","baseline":"middle","font":"Liberation Sans","fontSize":17},"encoding":{"text":{"field":"t"}}}
 ]},
{"width":109,"height":1,"data":{"values":[{}]},"mark":{"type":"point","opacity":0,"size":0},"view":{"stroke":null}},
{"width":311,"height":262,
 "encoding":{
  "x":{"field":"x","type":"quantitative","scale":{"domain":[-15.2,36.1],"nice":false,"zero":false},"axis":{"title":"Delay(ns)","values":[-15,-7.5,0,7.5,15,22.5,30],"labelExpr":"datum.value % 15 != 0 ? '' : datum.label","tickSize":{"condition":{"test":"datum.value % 15 != 0","value":-3},"value":-5},"format":"d","labelPadding":8.5,"titleY":28}},
  "y":{"field":"y","type":"quantitative","scale":{"domain":[-50400,457800],"nice":false,"zero":false},"axis":{"title":"Intensity(a.u)","values":[-50000,-25000,0,25000,50000,75000,100000,125000,150000,175000,200000,225000,250000,275000,300000,325000,350000,375000,400000,425000,450000],"labelExpr":"datum.value % 50000 != 0 ? '' : datum.label","tickSize":{"condition":{"test":"datum.value % 50000 != 0","value":-3},"value":-5},"format":"d","labelPadding":10.6,"titleX":-67}}},
 "layer":[
  {"data":{"name":"f_pts"},"mark":{"type":"point","shape":"circle","filled":false,"color":"black","size":40,"strokeWidth":1.8}},
  {"data":{"name":"f_fit"},"mark":{"type":"line","color":"red","strokeWidth":2}},
  {"data":{"values":[{"x":7.26,"x2":36,"y":397700,"y2":283200}]},"mark":{"type":"rect","fill":"white","stroke":"black","strokeWidth":1},"encoding":{"x2":{"field":"x2"},"y2":{"field":"y2"}}},
  {"data":{"values":[{"x":7.4,"x2":12.2,"y":301300}]},"mark":{"type":"rule","color":"red","strokeWidth":2},"encoding":{"x2":{"field":"x2"}}},
  {"data":{"values":[{"x":9.85,"y":369200}]},"mark":{"type":"point","shape":"circle","filled":false,"color":"black","size":40,"strokeWidth":1.8}},
  {"data":{"name":"f_txt"},"transform":[{"filter":"datum.k=='leg'"}],"mark":{"type":"text","align":"left","baseline":"middle","font":"Liberation Sans","fontWeight":"bold","fontSize":14.5},"encoding":{"text":{"field":"t"}}},
  {"data":{"name":"f_txt"},"transform":[{"filter":"datum.k=='tau'"}],"mark":{"type":"text","align":"left","baseline":"middle","font":"Liberation Serif","fontSize":20.5},"encoding":{"text":{"field":"t"}}},
  {"data":{"name":"f_txt"},"transform":[{"filter":"datum.k=='big'"}],"mark":{"type":"text","align":"left","baseline":"middle","font":"Liberation Sans","fontWeight":"bold","fontSize":27},"encoding":{"text":{"field":"t"}}},
  {"data":{"name":"f_txt"},"transform":[{"filter":"datum.k=='lab'"}],"mark":{"type":"text","align":"center","baseline":"middle","font":"Liberation Sans","fontSize":17},"encoding":{"text":{"field":"t"}}}
 ]}
 ]}
]
}
